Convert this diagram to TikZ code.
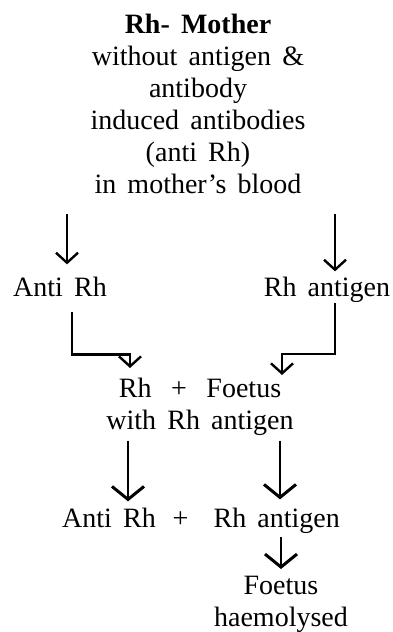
\documentclass[tikz,border=0pt]{standalone}
\usepackage{fontspec}
\setmainfont[WordSpace=1.6]{Liberation Serif}
\usepackage{tikz}
\usetikzlibrary{calc,arrows.meta,positioning}

\begin{document}
\begin{tikzpicture}[x=1pt,y=1pt,
      font=\fontsize{28}{32}\selectfont,
      txt/.style={inner sep=0pt,align=center},
      arr/.style={-{Straight Barb[length=10pt,width=22pt]},line width=2.4pt},
      arrbig/.style={-{Straight Barb[length=13pt,width=32pt,line width=3pt]},
                     line width=2.6pt}]
    \useasboundingbox (0,0) rectangle (393,632);
    \node[txt,anchor=north] (mother) at (198,618)
      {\textbf{Rh- Mother}\\without antigen \&\\antibody\\induced antibodies\\(anti Rh)\\in mother’s blood};
    \node[txt,anchor=base] (anti) at (60,335) {Anti Rh};
    \node[txt,anchor=base] (rhag) at (327,335) {Rh antigen};
    \node[txt,anchor=north] (foetus) at (200,254)
      {Rh\hspace{0.7em}+\hspace{0.7em}Foetus\\with Rh antigen};
    \node[txt,anchor=base] (result) at (201,104)
      {Anti Rh\hspace{0.6em}+\hspace{0.9em}Rh antigen};
    \node[txt,anchor=north] (haem) at (281,56) {Foetus\\haemolysed};
    % mother to both products
    \draw[arr,shorten <=20pt,shorten >=13pt]
      ([xshift=7pt]anti.north |- mother.south) -- ([xshift=7pt]anti.north);
    \draw[arr,shorten <=20pt,shorten >=6pt]
      ([xshift=8pt]rhag.north |- mother.south) -- ([xshift=8pt]rhag.north);
    % both meet the foetus
    \draw[arr] ([xshift=12pt,yshift=-15pt]anti.south) -- ++(0,-42)
      -| ([xshift=-70pt,yshift=10pt]foetus.north);
    \draw[arr] ([xshift=8pt]rhag.south) -- ++(0,-51)
      -| ([xshift=82pt,yshift=3pt]foetus.north);
    % reaction
    \draw[arrbig,shorten <=5pt,shorten >=7pt]
      ([xshift=-72pt]foetus.south) -- ([xshift=-72pt]foetus.south |- result.north);
    \draw[arrbig,shorten <=5pt,shorten >=9pt]
      ([xshift=80pt]foetus.south) -- ([xshift=80pt]foetus.south |- result.north);
    \draw[arrbig,shorten <=3pt,shorten >=7pt] (haem.north |- result.south) -- (haem.north);
  \end{tikzpicture}
\end{document}
